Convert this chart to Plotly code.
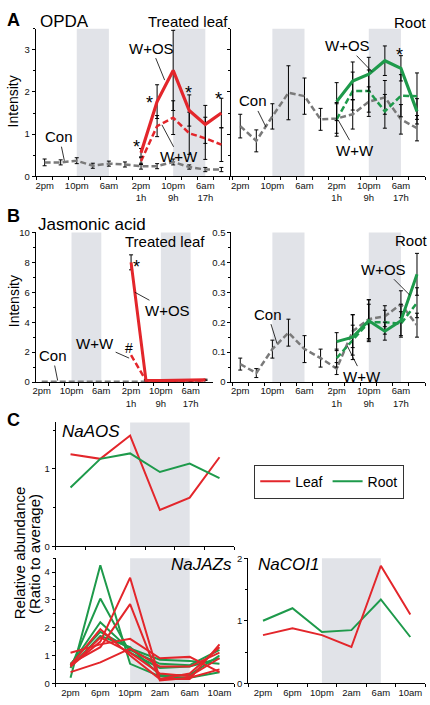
import plotly.graph_objects as go

W, H = 430, 705

# ---------------- data ----------------
time_labels = ["2pm", "6pm", "10pm", "2am", "6am", "10am",
               "2pm", "6pm", "10pm", "2am", "6am", "10am"]
hours_after = ["", "", "", "", "", "", "1h", "", "9h", "", "17h", ""]
t_all = list(range(12))
t_treat = t_all[6:]
night_a = [(2, 4), (8, 10)]

# A: OPDA, treated leaf
opda_leaf_con = [0.33, 0.33, 0.37, 0.25, 0.30, 0.28, 0.24, 0.24, 0.34, 0.22, 0.16, 0.16]
opda_leaf_con_err = [0.08, 0.06, 0.07, 0.06, 0.06, 0.06, 0.07, 0.06, 0.07, 0.05, 0.05, 0.05]
opda_leaf_wos = [0.56, 1.77, 2.51, 1.56, 1.23, 1.50]
opda_leaf_wos_err = [0.10, 0.40, 0.95, 0.37, 0.45, 0.35]
opda_leaf_ww = [0.36, 1.19, 1.39, 1.02, 0.90, 0.75]
opda_leaf_ww_err = [0.08, 0.25, 0.40, 0.50, 0.50, 0.40]

# A: OPDA, root
opda_root_con = [1.19, 0.84, 1.42, 1.98, 1.90, 1.35, 1.37, 1.47, 1.77, 1.87, 1.35, 1.14]
opda_root_con_err = [0.28, 0.26, 0.30, 0.64, 0.43, 0.26, 0.35, 0.35, 0.35, 0.40, 0.35, 0.30]
opda_root_wos = [1.77, 2.26, 2.42, 2.74, 2.56, 1.54]
opda_root_wos_err = [0.45, 0.45, 0.40, 0.35, 0.30, 0.30]
opda_root_ww = [1.35, 2.02, 2.02, 1.54, 1.91, 1.90]
opda_root_ww_err = [0.40, 0.45, 0.50, 0.40, 0.50, 0.55]

# B: Jasmonic acid, treated leaf
ja_leaf_con = [0.02, 0.02, 0.03, 0.02, 0.02, 0.02, 0.02, 0.02, 0.02, 0.02, 0.02, 0.02]
ja_leaf_wos = [8.0, 0.12, 0.10, 0.12, 0.10, 0.15]
ja_leaf_wos_err = [0.5, 0.04, 0.03, 0.04, 0.03, 0.04]
ja_leaf_ww = [1.8, 0.10, 0.08, 0.08, 0.08, 0.10]

# B: Jasmonic acid, root
ja_root_con = [0.06, 0.03, 0.11, 0.165, 0.11, 0.08, 0.045, 0.17, 0.21, 0.22, 0.26, 0.19]
ja_root_con_err = [0.02, 0.015, 0.03, 0.045, 0.045, 0.03, 0.02, 0.055, 0.065, 0.035, 0.045, 0.04]
ja_root_wos = [0.135, 0.15, 0.205, 0.17, 0.205, 0.36]
ja_root_wos_err = [0.03, 0.075, 0.07, 0.03, 0.055, 0.07]
ja_root_ww = [0.08, 0.14, 0.20, 0.20, 0.195, 0.265]
ja_root_ww_err = [0.03, 0.05, 0.06, 0.04, 0.04, 0.05]

# C: transcripts
day_labels = ["2pm", "6pm", "10pm", "2am", "6am", "10am"]
t_day = list(range(6))
night_c = (2, 4)
aos_leaf = [1.19, 1.13, 1.43, 0.47, 0.63, 1.15]
aos_root = [0.76, 1.13, 1.20, 0.96, 1.07, 0.88]
coi1_leaf = [0.77, 0.88, 0.77, 0.58, 1.88, 1.10]
coi1_root = [1.00, 1.20, 0.82, 0.85, 1.34, 0.74]
jaz_root_1 = [0.20, 4.25, 0.70, 0.25, 0.20, 0.40]
jaz_root_2 = [0.55, 3.05, 1.10, 0.55, 0.60, 0.90]
jaz_root_3 = [0.65, 2.20, 1.20, 0.70, 0.65, 1.20]
jaz_root_4 = [0.70, 1.85, 1.25, 0.85, 0.80, 0.70]
jaz_root_5 = [0.60, 1.70, 1.30, 0.30, 0.30, 1.00]
jaz_leaf_1 = [0.60, 1.50, 3.80, 0.15, 0.15, 1.40]
jaz_leaf_2 = [0.70, 1.30, 2.85, 0.10, 0.20, 0.50]
jaz_leaf_3 = [1.10, 1.40, 1.60, 0.90, 0.95, 0.40]
jaz_leaf_4 = [0.40, 0.75, 1.25, 0.60, 0.60, 1.10]
jaz_leaf_5 = [0.65, 1.95, 1.00, 0.15, 0.35, 1.30]
jaz_leaf_6 = [0.60, 1.65, 1.10, 0.35, 0.25, 0.90]

# ---------------- style ----------------
RED = "#e3262b"
GREEN = "#1e9a4b"
GRAY = "#7a7a7a"
SHADE = "#e1e3e8"
FONT = "Arial, Liberation Sans, sans-serif"


def xd(a, b):
    return [a / W, b / W]


def yd(top, bottom):
    return [1 - bottom / H, 1 - top / H]


def px(x, y):
    return x / W, 1 - y / H


fig = go.Figure()


def err(arr):
    return dict(type="data", array=arr, color="black", thickness=1, width=2)


def add_line(xa, ya, x, y, color, width, dash="solid", error=None, name=None, legend=False):
    fig.add_trace(go.Scatter(
        x=x, y=y, mode="lines", xaxis=xa, yaxis=ya,
        line=dict(color=color, width=width, dash=dash),
        error_y=err(error) if error is not None else None,
        name=name, showlegend=legend, hoverinfo="skip"))


DASH = "6px,3px"

# Panel A
add_line("x", "y", t_all, opda_leaf_con, GRAY, 2.5, DASH, opda_leaf_con_err)
add_line("x", "y", t_treat, opda_leaf_ww, RED, 2.5, DASH, opda_leaf_ww_err)
add_line("x", "y", t_treat, opda_leaf_wos, RED, 3.2, "solid", opda_leaf_wos_err)
add_line("x2", "y2", t_all, opda_root_con, GRAY, 2.5, DASH, opda_root_con_err)
add_line("x2", "y2", t_treat, opda_root_ww, GREEN, 2.5, DASH, opda_root_ww_err)
add_line("x2", "y2", t_treat, opda_root_wos, GREEN, 3.2, "solid", opda_root_wos_err)

# Panel B
add_line("x3", "y3", t_all, ja_leaf_con, GRAY, 2.5, DASH)
add_line("x3", "y3", t_treat, ja_leaf_ww, RED, 2.5, DASH)
add_line("x3", "y3", t_treat, ja_leaf_wos, RED, 3, "solid", ja_leaf_wos_err)
add_line("x4", "y4", t_all, ja_root_con, GRAY, 2.5, DASH, ja_root_con_err)
add_line("x4", "y4", t_treat, ja_root_ww, GREEN, 2.5, DASH, ja_root_ww_err)
add_line("x4", "y4", t_treat, ja_root_wos, GREEN, 3, "solid", ja_root_wos_err)

# Panel C
add_line("x5", "y5", t_day, aos_leaf, RED, 2, name="Leaf", legend=True)
add_line("x5", "y5", t_day, aos_root, GREEN, 2, name="Root", legend=True)
for s in [jaz_root_1, jaz_root_2, jaz_root_3, jaz_root_4, jaz_root_5]:
    add_line("x6", "y6", t_day, s, GREEN, 2)
for s in [jaz_leaf_1, jaz_leaf_2, jaz_leaf_3, jaz_leaf_4, jaz_leaf_5, jaz_leaf_6]:
    add_line("x6", "y6", t_day, s, RED, 2)
add_line("x7", "y7", t_day, coi1_root, GREEN, 2)
add_line("x7", "y7", t_day, coi1_leaf, RED, 2)

# ---------------- axes ----------------
TICKFONT = dict(family=FONT, size=9.5, color="#111")
long_ticks = [0, 2, 4, 6, 8, 10]
long_text = [time_labels[i] + ("<br>" + hours_after[i] if hours_after[i] else "") for i in long_ticks]
half_long = [i + 0.5 for i in range(-1, 12)]
half_day = [i + 0.5 for i in range(-1, 6)]


def xax(domain, rng, anchor, tickvals, ticktext, minor_vals, labels=True):
    return dict(domain=domain, range=rng, anchor=anchor, showline=True, linecolor="black",
                linewidth=1, showgrid=False, zeroline=False, ticks="", tickmode="array",
                tickvals=tickvals, ticktext=ticktext, showticklabels=labels, tickfont=TICKFONT,
                minor=dict(tickmode="array", tickvals=minor_vals, ticks="outside", ticklen=3,
                           tickcolor="black", showgrid=False))


def yax(domain, rng, anchor, dtick, minor_dtick, labels=True, tickvals=None, ticktext=None):
    d = dict(domain=domain, range=rng, anchor=anchor, showline=True, linecolor="black",
             linewidth=1, showgrid=False, zeroline=False, ticks="outside", ticklen=3,
             tickcolor="black", showticklabels=labels, tickfont=TICKFONT,
             minor=dict(dtick=minor_dtick, ticks="outside", ticklen=2, tickcolor="black",
                        showgrid=False))
    if tickvals is not None:
        d.update(tickmode="array", tickvals=tickvals, ticktext=ticktext)
    else:
        d.update(tick0=0, dtick=dtick)
    return d


yA = yd(23, 173)
yB = yd(230, 382)
fig.update_layout(
    xaxis=xax(xd(33, 228), [-0.55, 11.5], "y", long_ticks, long_text, half_long),
    yaxis=yax(yA, [0, 3.5], "x", 1, 0.5),
    xaxis2=xax(xd(230, 425), [-0.55, 11.5], "y2", long_ticks, long_text, half_long),
    yaxis2=yax(yA, [0, 3.5], "x2", 1, 0.5, labels=False),
    xaxis3=xax(xd(33, 211), [-0.4, 11.47], "y3", long_ticks, long_text, half_long),
    yaxis3=yax(yB, [0, 10], "x3", 2, 1),
    xaxis4=xax(xd(230, 425), [-0.55, 11.5], "y4", long_ticks, long_text, half_long),
    yaxis4=yax(yB, [0, 0.5], "x4", 0.1, 0.05, tickvals=[0, 0.1, 0.2, 0.3, 0.4, 0.5],
               ticktext=["0", "0.1", "0.2", "0.3", "0.4", "0.5"]),
    xaxis5=xax(xd(53, 233), [-0.5, 5.5], "y5", t_day, day_labels, half_day, labels=False),
    yaxis5=yax(yd(423, 549), [0, 1.6], "x5", 1, 0.5),
    xaxis6=xax(xd(53, 233), [-0.5, 5.5], "y6", t_day, day_labels, half_day),
    yaxis6=yax(yd(561, 688), [0, 4.5], "x6", 1, 0.5),
    xaxis7=xax(xd(247, 425), [-0.5, 5.5], "y7", t_day, day_labels, half_day),
    yaxis7=yax(yd(561, 688), [0, 2], "x7", 1, 0.5),
)

# ---------------- night shading ----------------
shapes = []
for ax in ["", "2", "3", "4"]:
    for (a, b) in night_a:
        shapes.append(dict(type="rect", xref="x" + ax, yref="y" + ax + " domain",
                           x0=a, x1=b, y0=0, y1=1, fillcolor=SHADE, line_width=0, layer="below"))
for ax in ["5", "6", "7"]:
    shapes.append(dict(type="rect", xref="x" + ax, yref="y" + ax + " domain",
                       x0=night_c[0], x1=night_c[1], y0=0, y1=1, fillcolor=SHADE,
                       line_width=0, layer="below"))
fig.update_layout(shapes=shapes)

# ---------------- annotations ----------------
anns = []


def ptext(text, x, y, size=15, bold=False, italic=False, xanchor="center", color="black", angle=0):
    X, Y = px(x, y)
    t = text
    if bold:
        t = "<b>" + t + "</b>"
    if italic:
        t = "<i>" + t + "</i>"
    anns.append(dict(text=t, x=X, y=Y, xref="paper", yref="paper", showarrow=False,
                     xanchor=xanchor, yanchor="middle", textangle=angle,
                     font=dict(family=FONT, size=size, color=color)))


def lead(text, xa, ya, x, y, ax, ay, size=15):
    anns.append(dict(text=text, x=x, y=y, xref=xa, yref=ya, showarrow=True, arrowhead=0,
                     arrowwidth=0.8, arrowcolor="black", ax=ax, ay=ay, standoff=0,
                     font=dict(family=FONT, size=size, color="black")))


def star(text, xa, ya, x, y, size=18, yshift=-5):
    anns.append(dict(text=text, x=x, y=y, xref=xa, yref=ya, showarrow=False, yshift=yshift,
                     font=dict(family=FONT, size=size, color="black")))


# panel letters and titles
ptext("A", 11, 14, size=18, bold=True)
ptext("OPDA", 62, 16, size=17)
ptext("Treated leaf", 186, 16, size=15)
ptext("Root", 410, 17, size=15)
ptext("Intensity", 11, 97, size=14, angle=-90)
ptext("B", 11, 213, size=18, bold=True)
ptext("Jasmonic acid", 90, 222, size=17)
ptext("Treated leaf", 163, 239, size=15)
ptext("Root", 411, 238, size=15)
ptext("Intensity", 11, 300, size=14, angle=-90)
ptext("C", 11, 421, size=18, bold=True)
ptext("Relative abundance", 16, 555, size=15, angle=-90)
ptext("(Ratio to average)", 32, 557, size=15, angle=-90)
ptext("NaAOS", 89, 432, size=17, italic=True)
ptext("NaJAZs", 233, 567, size=17, italic=True, xanchor="right")
ptext("NaCOI1", 255, 567, size=17, italic=True, xanchor="left")

# A left
lead("W+OS", "x", "y", 7.47, 2.28, -13, -32)
lead("W+W", "x", "y", 7.3, 1.22, 17, 32)
lead("Con", "x", "y", 1.23, 0.37, -5, -24)
star("*", "x", "y", 5.7, 0.82)
star("*", "x", "y", 6.5, 1.86)
star("*", "x", "y", 8.95, 2.09)
star("*", "x", "y", 10.85, 1.95)
# A right
lead("W+OS", "x2", "y2", 8.2, 2.48, -25, -26)
lead("Con", "x2", "y2", 1.6, 1.17, -13, -26)
lead("W+W", "x2", "y2", 6.1, 1.33, 17, 30)
star("*", "x2", "y2", 9.9, 3.0)
# B left
lead("W+OS", "x3", "y3", 6.25, 6.0, 33, 18)
lead("W+W", "x3", "y3", 5.87, 1.6, -34, -15)
lead("Con", "x3", "y3", 1.07, 0.1, -5, -25)
star("*", "x3", "y3", 6.35, 8.0)
star("#", "x3", "y3", 5.87, 2.3, size=14, yshift=0)
# B right
lead("W+OS", "x4", "y4", 10.56, 0.29, -26, -26)
lead("Con", "x4", "y4", 2.28, 0.13, -9, -29)
lead("W+W", "x4", "y4", 6.67, 0.12, 15, 30)

fig.update_layout(annotations=anns)

fig.update_layout(
    width=W, height=H, autosize=False,
    margin=dict(l=0, r=0, t=0, b=0),
    paper_bgcolor="white", plot_bgcolor="rgba(0,0,0,0)",
    font=dict(family=FONT, color="black"),
    showlegend=True,
    legend=dict(orientation="h", x=253 / W, y=1 - 466 / H, xanchor="left", yanchor="top",
                bordercolor="#333", borderwidth=1, bgcolor="white",
                font=dict(family=FONT, size=14), itemwidth=30, tracegroupgap=0),
)

fig.write_html("out.html",
               config={"displayModeBar": False},
               post_script="document.body.style.margin='0';document.body.style.padding='0';"
                           "document.body.style.overflow='hidden';")
